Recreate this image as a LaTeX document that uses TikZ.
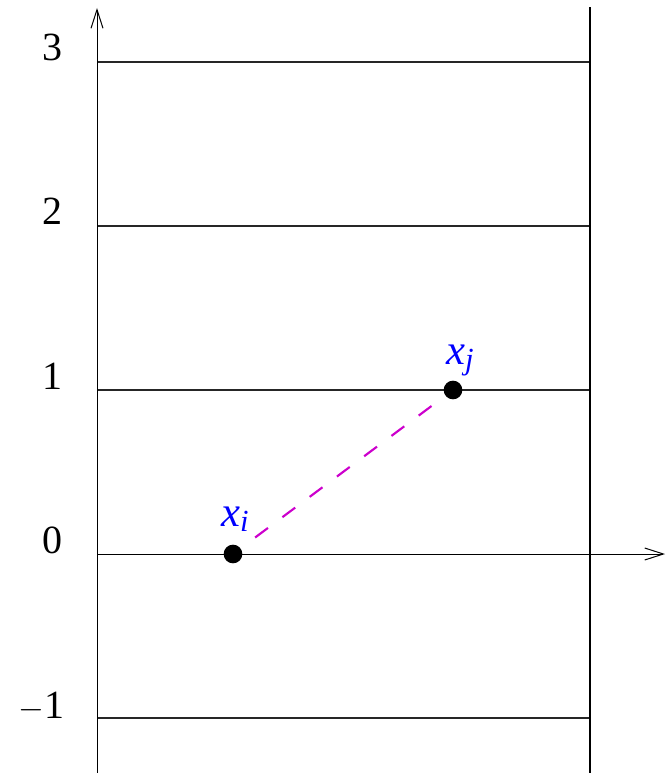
\documentclass[tikz,border=0pt]{standalone}
\usepackage{fontspec}
\setmainfont{Liberation Serif}
\usetikzlibrary{arrows.meta}
\begin{document}
\begin{tikzpicture}[x=0.75pt,y=-0.75pt,
  gridline/.style={line width=0.8pt,black!85},
  axisline/.style={line width=0.75pt,black,-{Straight Barb[length=14pt,width=9pt,line width=0.75pt]}},
  ticklabel/.style={anchor=base east,inner sep=0pt,font=\fontsize{30}{33}\selectfont},
  ptlabel/.style={anchor=base west,inner sep=0pt,text=blue,font=\fontsize{32}{35}\selectfont},
  pt/.style={circle,fill=black,inner sep=0pt,minimum size=14pt},
  link/.style={line width=1.6pt,draw={rgb,255:red,204;green,0;blue,204},dash pattern=on 12pt off 13.5pt,dash phase=12pt}]
\useasboundingbox (0,0) rectangle (665,773);
% horizontal lines
\coordinate (l3a) at (97,62);  \coordinate (l3b) at (590,62);
\coordinate (l2a) at (97,226); \coordinate (l2b) at (590,226);
\coordinate (l1a) at (97,390); \coordinate (l1b) at (590,390);
\coordinate (lma) at (97,718); \coordinate (lmb) at (590,718);
\coordinate (l0a) at (97,554); \coordinate (l0b) at (665,554);
\draw[gridline] (l3a) -- (l3b);
\draw[gridline] (l2a) -- (l2b);
\draw[gridline] (l1a) -- (l1b);
\draw[gridline] (lma) -- (lmb);
\draw[axisline] (l0a) -- (l0b);
% verticals
\coordinate (ya) at (97,773); \coordinate (yb) at (97,8);
\coordinate (ra) at (590,773); \coordinate (rb) at (590,7);
\draw[axisline] (ya) -- (yb);
\draw[line width=0.8pt] (ra) -- (rb);
% tick labels
\node[ticklabel] (t3) at (63,61) {3};
\node[ticklabel] (t2) at (63,225) {2};
\node[ticklabel] (t1) at (63,389) {1};
\node[ticklabel] (t0) at (63,553) {0};
\node[ticklabel] (tm) at (65,718) {$-$1};
% points
\node[pt] (xi) at (233,554) {};
\node[pt] (xj) at (453,390) {};
\draw[link] (xi) -- (xj);
\node[ptlabel] (lxi) at (221,526) {\textit{x}\raisebox{-0.3ex}{\fontsize{23}{24}\selectfont\textit{i}}};
\node[ptlabel] (lxj) at (446,364) {\textit{x}\raisebox{-0.3ex}{\fontsize{23}{24}\selectfont\textit{j}}};
\end{tikzpicture}
\end{document}
